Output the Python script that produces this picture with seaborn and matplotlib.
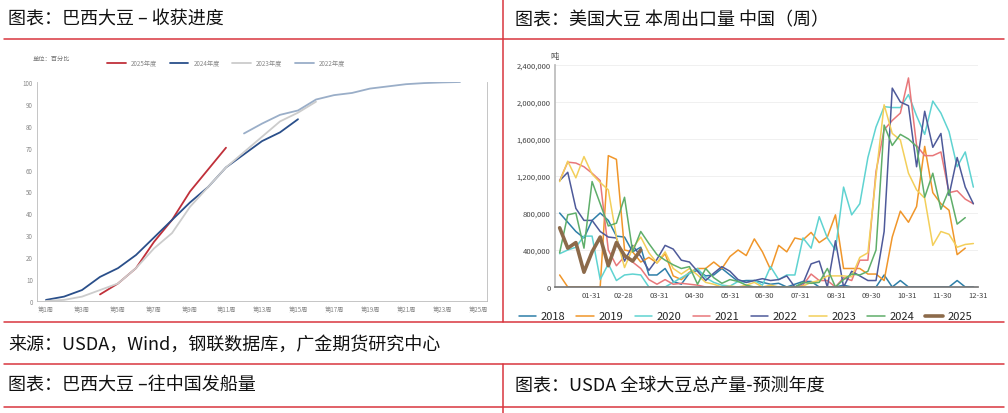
import numpy as np
import pandas as pd
import matplotlib
matplotlib.use("Agg")
import matplotlib.pyplot as plt
import seaborn as sns
from matplotlib.lines import Line2D

sns.set_theme(style="white")
plt.rcParams['font.family'] = ['Noto Sans CJK SC', 'DejaVu Sans']

# ---- left chart: Brazil soybean harvest progress (% by week) ----
weeks = list(range(1, 26))
week_labels = [f"第{w}周" for w in weeks]
prog_2025 = {4: 3, 5: 8, 6: 15, 7: 27, 8: 37, 9: 50, 10: 60, 11: 70}
prog_2024 = {1: 0.5, 2: 2, 3: 5, 4: 11, 5: 15, 6: 21, 7: 29, 8: 37, 9: 45, 10: 52,
             11: 61, 12: 67, 13: 73, 14: 77, 15: 83}
prog_2023 = {1: 0, 2: 0.5, 3: 2, 4: 5, 5: 8, 6: 15, 7: 24, 8: 31, 9: 43, 10: 52,
             11: 61, 12: 68, 13: 75, 14: 82, 15: 86, 16: 91}
prog_2022 = {12: 76.5, 13: 81, 14: 85, 15: 87, 16: 92, 17: 94, 18: 95, 19: 97,
             20: 98, 21: 99, 22: 99.5, 23: 99.8, 24: 100}
left_series = [("2025年度", prog_2025, "#c0303a"), ("2024年度", prog_2024, "#2a4f8a"),
               ("2023年度", prog_2023, "#cccccc"), ("2022年度", prog_2022, "#9aaec8")]

# ---- right chart: US soybean weekly exports to China (tons) ----
month_ticks = ["01-31", "02-28", "03-31", "04-30", "05-31", "06-30", "07-31",
               "08-31", "09-30", "10-31", "11-30", "12-31"]
month_days = [31, 59, 90, 120, 151, 181, 212, 243, 273, 304, 334, 365]
exp_2018 = [800, 700, 600, 530, 720, 800, 720, 550, 540, 380, 430, 130, 130, 200, 60, 30,
            150, 180, 120, 130, 200, 130, 60, 70, 70, 50, 30, 40, 0, 30, 60, 60, 0, 0, 0, 20,
            0, 0, 0, 0, 130, 0, 70, 0, 0, 0, 0, 0, 0, 70, 0, 0]
exp_2019 = [130, 0, 0, 0, 0, 0, 1420, 1380, 400, 380, 270, 320, 260, 360, 120, 80, 160, 200,
            200, 270, 200, 330, 400, 340, 520, 380, 190, 450, 380, 530, 510, 590, 480, 540,
            780, 200, 200, 200, 140, 140, 70, 540, 820, 700, 870, 1520, 1020, 900, 830, 350, 420]
exp_2020 = [360, 400, 430, 550, 550, 80, 250, 70, 130, 140, 130, 0, 0, 0, 50, 100, 150, 200,
            100, 50, 20, 10, 60, 50, 70, 20, 220, 80, 130, 130, 530, 420, 760, 530, 400, 1080,
            780, 900, 1400, 1730, 1950, 1940, 1940, 2080, 1850, 1650, 2010, 1880, 1680, 1300,
            1460, 1080]
exp_2021 = [1150, 1350, 1340, 1300, 1230, 1150, 400, 230, 330, 270, 200, 80, 30, 80, 30, 40,
            30, 20, 0, 0, 0, 0, 0, 0, 0, 0, 0, 0, 0, 0, 20, 140, 70, 70, 0, 100, 70, 290, 290,
            1250, 1700, 1800, 1880, 2260, 1530, 1420, 1420, 1460, 1020, 1040, 950, 900]
exp_2022 = [1150, 1240, 850, 720, 720, 600, 540, 530, 280, 450, 330, 180, 300, 450, 410, 290,
            270, 170, 70, 150, 220, 170, 80, 50, 70, 90, 70, 80, 120, 0, 40, 250, 280, 0, 500,
            0, 170, 120, 70, 70, 600, 2150, 2000, 1960, 1300, 1900, 1510, 1660, 990, 1400,
            1080, 900]
exp_2023 = [1140, 1360, 1180, 1410, 1220, 1130, 1050, 540, 210, 420, 540, 370, 260, 380, 200,
            140, 200, 130, 50, 30, 0, 10, 0, 20, 50, 0, 20, 0, 0, 0, 10, 50, 70, 120, 120, 120,
            110, 320, 370, 1200, 1970, 1660, 1590, 1230, 1050, 960, 450, 600, 570, 430, 460, 470]
exp_2024 = [370, 780, 800, 420, 1140, 900, 660, 690, 970, 380, 600, 470, 350, 290, 240, 200,
            220, 30, 200, 100, 40, 80, 60, 20, 0, 0, 0, 0, 0, 0, 50, 40, 50, 200, 0, 80, 140,
            130, 170, 400, 1750, 1530, 1650, 1600, 1520, 970, 1230, 840, 1050, 680, 750]
exp_2025 = [640, 420, 480, 160, 380, 540, 230, 480, 340, 280, 400]
right_series = [("2018", exp_2018, "#2e7fa8"), ("2019", exp_2019, "#f0962a"),
                ("2020", exp_2020, "#5fd3d1"), ("2021", exp_2021, "#e8777a"),
                ("2022", exp_2022, "#4e5a9a"), ("2023", exp_2023, "#f3cf5a"),
                ("2024", exp_2024, "#5fae6a"), ("2025", exp_2025, "#8c6a4a")]

W, H = 1008, 414
fig = plt.figure(figsize=(W / 100, H / 100), dpi=100)
fig.patch.set_facecolor("white")

def fx(px):
    return px / W

def fy(py):
    return 1 - py / H

# red frame lines
red = "#d9363e"
for y in (40, 323, 365, 408):
    fig.add_artist(Line2D([fx(4), fx(1004)], [fy(y), fy(y)], color=red, lw=1.1))
fig.add_artist(Line2D([fx(503), fx(503)], [fy(0), fy(323)], color=red, lw=1.1))
fig.add_artist(Line2D([fx(503), fx(503)], [fy(365), fy(414)], color=red, lw=1.1))

ttl = dict(fontsize=13, color="#111111", va="center")
fig.text(fx(8), fy(20), "图表：巴西大豆 – 收获进度", **ttl)
fig.text(fx(515), fy(20), "图表：美国大豆 本周出口量 中国（周）", **ttl)
fig.text(fx(8), fy(345), "来源：USDA，Wind，钢联数据库，广金期货研究中心", **ttl)
fig.text(fx(8), fy(386), "图表：巴西大豆 –往中国发船量", **ttl)
fig.text(fx(515), fy(386), "图表：USDA 全球大豆总产量-预测年度", **ttl)

# ---- left axes ----
ax1 = fig.add_axes([fx(37), fy(302), fx(487 - 37), (302 - 83) / H])
for name, d, c in left_series:
    df = pd.DataFrame({"week": list(d.keys()), "pct": list(d.values())})
    sns.lineplot(data=df, x="week", y="pct", color=c, lw=1.3, ax=ax1, label=name)
ax1.set_xlim(0.5, 25.5)
ax1.set_ylim(0, 100)
ax1.set_xticks(weeks[::2])
ax1.set_xticklabels(week_labels[::2])
ax1.set_yticks(range(0, 101, 10))
ax1.tick_params(labelsize=4.5, colors="#888888", length=2, pad=1)
ax1.set_xlabel("")
ax1.set_ylabel("")
ax1.spines["top"].set_visible(False)
for s in ("left", "bottom", "right"):
    ax1.spines[s].set_color("#bbbbbb")
    ax1.spines[s].set_linewidth(0.6)
ax1.legend(loc="lower center", bbox_to_anchor=(0.42, 1.04), ncol=4, frameon=False,
           fontsize=4.5, labelcolor="#888888", handlelength=3)
ax1.text(-0.01, 1.1, "单位：百分比", transform=ax1.transAxes, fontsize=4.5, color="#777777")

# ---- right axes ----
ax2 = fig.add_axes([fx(555), fy(288), fx(978 - 555), (288 - 66) / H])
for name, vals, c in right_series:
    df = pd.DataFrame({"day": [4 + 7 * i for i in range(len(vals))],
                       "tons": [v * 1000 for v in vals]})
    sns.lineplot(data=df, x="day", y="tons", color=c, ax=ax2, label=name,
                 lw=2.6 if name == "2025" else 1.1)
ax2.set_xlim(0, 365)
ax2.set_ylim(0, 2400000)
ax2.set_xticks(month_days)
ax2.set_xticklabels(month_ticks)
ax2.set_yticks(range(0, 2400001, 400000))
ax2.yaxis.set_major_formatter(matplotlib.ticker.FuncFormatter(lambda v, p: f"{int(v):,}"))
ax2.tick_params(labelsize=5.5, colors="#444444", length=2, pad=1)
ax2.grid(axis="y", color="#eeeeee", lw=0.6)
ax2.set_xlabel("")
ax2.set_ylabel("")
ax2.spines["top"].set_visible(False)
ax2.spines["right"].set_visible(False)
ax2.spines["left"].set_color("#bbbbbb")
ax2.spines["bottom"].set_color("#777777")
ax2.legend(loc="upper center", bbox_to_anchor=(0.45, -0.065), ncol=8, frameon=False,
           fontsize=8, handlelength=1.6, columnspacing=1.0, handletextpad=0.4)
ax2.text(-0.01, 1.03, "吨", transform=ax2.transAxes, fontsize=6, color="#444444")

fig.savefig("out.png", dpi=100)
